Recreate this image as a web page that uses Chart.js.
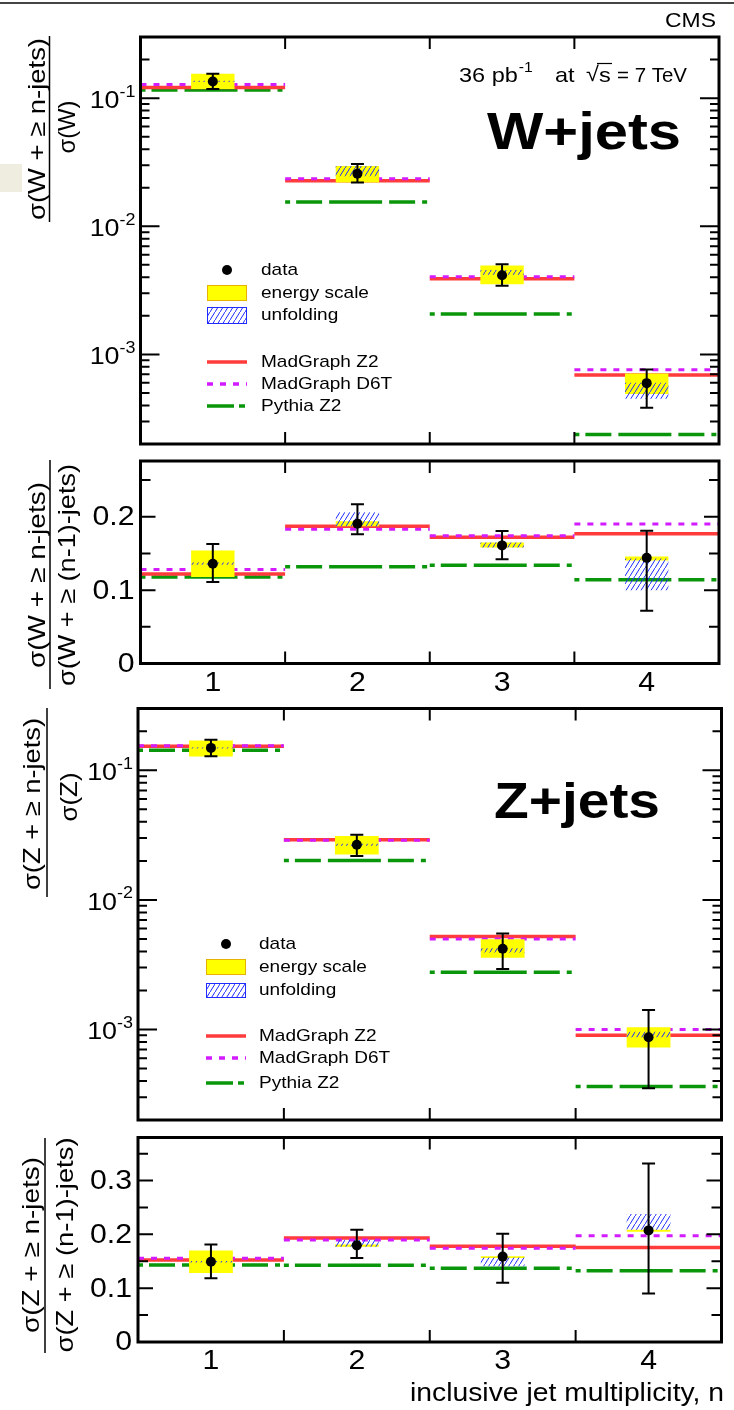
<!DOCTYPE html>
<html>
<head>
<meta charset="utf-8">
<script src="https://cdn.jsdelivr.net/npm/chart.js@4.4.1/dist/chart.umd.min.js"></script>
<style>
  html, body { margin: 0; padding: 0; background: #fff; }
  #page { position: relative; width: 734px; height: 1410px; overflow: hidden; background: #fff; }
  #page canvas { position: absolute; left: 0; top: 0; }
  #topline { position: absolute; left: 0; top: 2px; width: 734px; height: 2px; background: #444; }
  #tab { position: absolute; left: 0; top: 164px; width: 22px; height: 28px; background: #eeede0; }
</style>
</head>
<body>
<div id="page">
  <div id="topline"></div>
  <div id="tab"></div>
  <canvas id="wAbs" width="734" height="1410"></canvas>
  <canvas id="wRatio" width="734" height="1410"></canvas>
  <canvas id="zAbs" width="734" height="1410"></canvas>
  <canvas id="zRatio" width="734" height="1410"></canvas>
</div>
<script>
// jet multiplicity bins
const nJets = [1, 2, 3, 4];
const binEdges = [0.5, 1.5, 2.5, 3.5, 4.5];
const xTickLabels = ['1', '2', '3', '4'];

// tick labels
const logTickValues = [1e-1, 1e-2, 1e-3];
const logTickExps = ['-1', '-2', '-3'];
const wRatioTicks = [0, 0.1, 0.2];
const wRatioTickLabels = ['0', '0.1', '0.2'];
const zRatioTicks = [0, 0.1, 0.2, 0.3];
const zRatioTickLabels = ['0', '0.1', '0.2', '0.3'];

// W+jets : sigma(W + >= n jets) / sigma(W)
const wData = [0.135, 0.0257, 0.00415, 0.000597];
const wErrHi = [0.155, 0.0306, 0.00506, 0.000764];
const wErrLo = [0.118, 0.0220, 0.00343, 0.000384];
const wEnergyHi = [0.155, 0.0296, 0.00494, 0.000711];
const wEnergyLo = [0.118, 0.0220, 0.00353, 0.000491];
const wUnfoldHi = [0.1365, 0.0296, 0.00455, 0.00060];
const wUnfoldLo = [0.1335, 0.0246, 0.00418, 0.00045];
const wMadZ2 = [0.121, 0.0227, 0.00389, 0.00069];
const wMadD6T = [0.1276, 0.0235, 0.00403, 0.00076];
const wPythiaZ2 = [0.116, 0.0155, 0.00207, 0.000237];

// W+jets : sigma(W + >= n jets) / sigma(W + >= (n-1) jets)
const wrData = [0.136, 0.1905, 0.161, 0.144];
const wrErrHi = [0.163, 0.217, 0.1805, 0.181];
const wrErrLo = [0.111, 0.176, 0.142, 0.072];
const wrEnergyHi = [0.154, 0.194, 0.165, 0.146];
const wrEnergyLo = [0.118, 0.187, 0.158, 0.1405];
const wrUnfoldHi = [0.1375, 0.206, 0.165, 0.143];
const wrUnfoldLo = [0.1345, 0.187, 0.158, 0.100];
const wrMadZ2 = [0.122, 0.187, 0.172, 0.177];
const wrMadD6T = [0.128, 0.183, 0.174, 0.190];
const wrPythiaZ2 = [0.118, 0.132, 0.134, 0.114];

// Z+jets : sigma(Z + >= n jets) / sigma(Z)
const zData = [0.149, 0.0266, 0.00419, 0.00087];
const zErrHi = [0.1724, 0.0318, 0.0055, 0.00141];
const zErrLo = [0.1285, 0.0218, 0.00293, 0.000351];
const zEnergyHi = [0.170, 0.0311, 0.00497, 0.00104];
const zEnergyLo = [0.1278, 0.0224, 0.00358, 0.000724];
const zUnfoldHi = [0.1505, 0.0271, 0.00423, 0.00096];
const zUnfoldLo = [0.1475, 0.0262, 0.00392, 0.00087];
const zMadZ2 = [0.1537, 0.0291, 0.00521, 0.000902];
const zMadD6T = [0.155, 0.0289, 0.00499, 0.00100];
const zPythiaZ2 = [0.143, 0.0201, 0.00276, 0.000362];

// Z+jets : sigma(Z + >= n jets) / sigma(Z + >= (n-1) jets)
const zrData = [0.149, 0.1796, 0.1587, 0.2074];
const zrErrHi = [0.181, 0.2087, 0.2013, 0.3315];
const zrErrLo = [0.1185, 0.1563, 0.110, 0.090];
const zrEnergyHi = [0.170, 0.181, 0.1593, 0.2087];
const zrEnergyLo = [0.128, 0.177, 0.156, 0.205];
const zrUnfoldHi = [0.1505, 0.190, 0.157, 0.2378];
const zrUnfoldLo = [0.1475, 0.177, 0.1407, 0.2087];
const zrMadZ2 = [0.1526, 0.1933, 0.1778, 0.1754];
const zrMadD6T = [0.1556, 0.1896, 0.174, 0.1976];
const zrPythiaZ2 = [0.1433, 0.1426, 0.137, 0.1322];

const FONT = '"Liberation Sans", Arial, Helvetica, sans-serif';
const STRETCH = 1.12;
const RED = '#ff3b3b';
const MAGENTA = '#d21cff';
const GREEN = '#0a960a';
const YELLOW = '#ffff00';
// pola garis Pythia per bin: titik di ujung, strip panjang di tengah
const PYTHIA_DASH = [5, 6, 26, 7, 53, 7, 26, 7, 5, 10];

// teks di canvas, sedikit dilebarkan seperti font ROOT
function put(ctx, s, x, y, o = {}) {
  ctx.save();
  ctx.font = `${o.bold ? 'bold ' : ''}${o.size || 20}px ${FONT}`;
  ctx.fillStyle = o.color || '#000';
  ctx.textBaseline = o.base || 'middle';
  ctx.textAlign = o.align || 'left';
  ctx.translate(x, y);
  if (o.rot) ctx.rotate(o.rot);
  const w = ctx.measureText(s).width;
  const sx = o.width ? o.width / w : STRETCH;
  ctx.scale(sx, 1);
  ctx.fillText(s, 0, 0);
  ctx.restore();
  return w * sx;
}

function textWidth(ctx, s, size) {
  ctx.save();
  ctx.font = `${size}px ${FONT}`;
  const w = ctx.measureText(s).width * STRETCH;
  ctx.restore();
  return w;
}

function logLabel(ctx, exp, right, py) {
  const wE = textWidth(ctx, exp, 16);
  const w10 = textWidth(ctx, '10', 24);
  put(ctx, '10', right - wE - w10, py + 3, { size: 24 });
  put(ctx, exp, right - wE, py - 6, { size: 16 });
}

function makeHatch(ctx) {
  const tile = document.createElement('canvas');
  tile.width = 5;
  tile.height = 8;
  const g = tile.getContext('2d');
  g.strokeStyle = '#1f2bff';
  g.lineWidth = 1;
  g.beginPath();
  g.moveTo(-5, 16);
  g.lineTo(10, -8);
  g.stroke();
  return ctx.createPattern(tile, 'repeat');
}

function steps(vals) {
  const pts = [];
  vals.forEach((v, i) => {
    if (i > 0) pts.push({ x: nJets[i] - 0.5, y: null });
    pts.push({ x: nJets[i] - 0.5, y: v }, { x: nJets[i] + 0.5, y: v });
  });
  return pts;
}

const boxes = (lo, hi) => nJets.map((n, i) => ({ x: n, y: [lo[i], hi[i]] }));
const points = (vals) => nJets.map((n, i) => ({ x: n, y: vals[i] }));

function drawLegend(ctx, hatch, bx, tx, r) {
  ctx.save();
  ctx.fillStyle = '#000';
  ctx.beginPath();
  ctx.arc(bx + 20, r.data, 5, 0, Math.PI * 2);
  ctx.fill();
  ctx.fillStyle = YELLOW;
  ctx.fillRect(bx, r.energy[0], 40, r.energy[1] - r.energy[0]);
  ctx.strokeStyle = '#e6b400';
  ctx.lineWidth = 1;
  ctx.strokeRect(bx + 0.5, r.energy[0] + 0.5, 39, r.energy[1] - r.energy[0] - 1);
  ctx.fillStyle = hatch;
  ctx.fillRect(bx, r.unf[0], 40, r.unf[1] - r.unf[0]);
  ctx.strokeStyle = '#1f2bff';
  ctx.strokeRect(bx + 0.5, r.unf[0] + 0.5, 39, r.unf[1] - r.unf[0] - 1);
  const line = (y, color, dash) => {
    ctx.beginPath();
    ctx.strokeStyle = color;
    ctx.lineWidth = 3.5;
    ctx.setLineDash(dash);
    ctx.moveTo(bx, y);
    ctx.lineTo(bx + 40, y);
    ctx.stroke();
  };
  line(r.red, RED, []);
  line(r.mag, MAGENTA, [6, 7]);
  line(r.green, GREEN, [27, 5, 6, 20]);
  ctx.restore();
  const o = { size: 17 };
  put(ctx, 'data', tx, r.data, o);
  put(ctx, 'energy scale', tx, (r.energy[0] + r.energy[1]) / 2, o);
  put(ctx, 'unfolding', tx, (r.unf[0] + r.unf[1]) / 2, o);
  put(ctx, 'MadGraph Z2', tx, r.red, o);
  put(ctx, 'MadGraph D6T', tx, r.mag, o);
  put(ctx, 'Pythia Z2', tx, r.green, o);
}

function yTitle(ctx, num, den, t) {
  const rot = -Math.PI / 2;
  put(ctx, num, t.nx, t.cy, { size: 24, rot, align: 'center', width: t.nw });
  put(ctx, den, t.dx, t.dcy || t.cy, { size: 24, rot, align: 'center', width: t.dw });
  ctx.save();
  ctx.strokeStyle = '#000';
  ctx.lineWidth = 1.5;
  ctx.beginPath();
  ctx.moveTo(t.bx, t.b0);
  ctx.lineTo(t.bx, t.b1);
  ctx.stroke();
  ctx.restore();
}

function makePanel(id, cfg) {
  const el = document.getElementById(id);
  const ctx = el.getContext('2d');
  const hatch = makeHatch(ctx);
  const f = cfg.frame;

  const errorBars = {
    id: 'errorBars',
    afterDatasetsDraw(chart) {
      const { ctx, scales: { x, y } } = chart;
      ctx.save();
      ctx.strokeStyle = '#000';
      ctx.lineWidth = 2;
      nJets.forEach((n, i) => {
        const px = x.getPixelForValue(n);
        const top = y.getPixelForValue(cfg.errHi[i]);
        const bot = y.getPixelForValue(cfg.errLo[i]);
        ctx.beginPath();
        ctx.moveTo(px, top); ctx.lineTo(px, bot);
        ctx.moveTo(px - 6.5, top); ctx.lineTo(px + 6.5, top);
        ctx.moveTo(px - 6.5, bot); ctx.lineTo(px + 6.5, bot);
        ctx.stroke();
      });
      ctx.restore();
    }
  };

  const frame = {
    id: 'frame',
    afterDraw(chart) {
      const { ctx, chartArea: a, scales: { x, y } } = chart;
      ctx.save();
      ctx.strokeStyle = '#000';
      ctx.lineWidth = 2;
      // tanda batas bin di atas dan bawah
      x.ticks.forEach(t => {
        if (t.value <= 0.5 || t.value >= 4.5) return;
        const px = x.getPixelForValue(t.value);
        ctx.beginPath();
        ctx.moveTo(px, a.bottom); ctx.lineTo(px, a.bottom - 12);
        ctx.moveTo(px, a.top); ctx.lineTo(px, a.top + 12);
        ctx.stroke();
      });
      // tanda sumbu y di kiri dan kanan
      const yt = [];
      if (cfg.log) {
        for (let e = -4; e <= 0; e++) {
          for (let m = 1; m <= 9; m++) {
            const v = m * Math.pow(10, e);
            if (v >= cfg.yMin && v <= cfg.yMax) yt.push({ v, len: m === 1 ? 19 : 9 });
          }
        }
      } else {
        for (let k = 0; k * 0.05 <= cfg.yMax + 1e-9; k++) {
          yt.push({ v: k * 0.05, len: k % 2 === 0 ? 15 : 10 });
        }
      }
      yt.forEach(t => {
        const py = y.getPixelForValue(t.v);
        ctx.beginPath();
        ctx.moveTo(a.left, py); ctx.lineTo(a.left + t.len, py);
        ctx.moveTo(a.right, py); ctx.lineTo(a.right - t.len, py);
        ctx.stroke();
      });
      ctx.lineWidth = 3;
      ctx.strokeRect(a.left, a.top, a.right - a.left, a.bottom - a.top);
      ctx.restore();
      cfg.draw(ctx, chart, a, x, y, hatch);
    }
  };

  return new Chart(el, {
    type: 'line',
    data: {
      datasets: [
        { type: 'scatter', data: points(cfg.data), pointRadius: 5, pointBackgroundColor: '#000',
          pointBorderWidth: 0, order: 0 },
        { type: 'bar', data: boxes(cfg.unfLo, cfg.unfHi), backgroundColor: hatch, borderWidth: 0,
          grouped: false, categoryPercentage: 0.3, barPercentage: 1, order: 1 },
        { type: 'bar', data: boxes(cfg.enLo, cfg.enHi), backgroundColor: YELLOW, borderWidth: 0,
          grouped: false, categoryPercentage: 0.3, barPercentage: 1, order: 2 },
        { type: 'line', data: steps(cfg.d6t), borderColor: MAGENTA, borderWidth: 3,
          borderDash: [6, 7], pointRadius: 0, order: 3 },
        { type: 'line', data: steps(cfg.z2), borderColor: RED, borderWidth: 3.5,
          pointRadius: 0, order: 4 },
        { type: 'line', data: steps(cfg.py), borderColor: GREEN, borderWidth: 3.5,
          borderDash: PYTHIA_DASH, pointRadius: 0, order: 5 }
      ]
    },
    options: {
      responsive: false,
      animation: false,
      devicePixelRatio: 1,
      events: [],
      layout: { padding: { left: f.l, right: 734 - f.r, top: f.t, bottom: 1410 - f.b } },
      plugins: { legend: { display: false }, tooltip: { enabled: false } },
      scales: {
        x: {
          type: 'linear', display: false, min: 0.5, max: 4.5, offset: false,
          grid: { offset: false },
          afterBuildTicks: s => { s.ticks = binEdges.map(v => ({ value: v })); }
        },
        y: { type: cfg.log ? 'logarithmic' : 'linear', display: false, min: cfg.yMin, max: cfg.yMax,
          beginAtZero: false }
      }
    },
    plugins: [errorBars, frame]
  });
}

// W+jets, skala log
makePanel('wAbs', {
  frame: { l: 140.5, r: 719, t: 37, b: 444 },
  log: true, yMin: 2e-4, yMax: 0.3,
  data: wData, errHi: wErrHi, errLo: wErrLo, enHi: wEnergyHi, enLo: wEnergyLo,
  unfHi: wUnfoldHi, unfLo: wUnfoldLo, z2: wMadZ2, d6t: wMadD6T, py: wPythiaZ2,
  draw(ctx, chart, a, x, y, hatch) {
    logTickValues.forEach((v, i) => logLabel(ctx, logTickExps[i], a.left - 5, y.getPixelForValue(v)));
    put(ctx, 'CMS', 716, 21, { size: 20, align: 'right', width: 51 });
    const w = put(ctx, '36 pb', 459, 76, { size: 21 });
    put(ctx, '-1', 459 + w + 1, 68, { size: 14 });
    put(ctx, 'at', 555, 76, { size: 21 });
    put(ctx, '\u221A', 586, 75, { size: 21 });
    put(ctx, 's', 599, 76, { size: 21 });
    ctx.save();
    ctx.strokeStyle = '#000'; ctx.lineWidth = 1.2;
    ctx.beginPath(); ctx.moveTo(597, 63.5); ctx.lineTo(612, 63.5); ctx.stroke();
    ctx.restore();
    put(ctx, '= 7 TeV', 617, 76, { size: 21, width: 70 });
    put(ctx, 'W+jets', 487, 135, { size: 52, bold: true, width: 194 });
    drawLegend(ctx, hatch, 207, 261, {
      data: 270, energy: [285, 301], unf: [307, 324], red: 362, mag: 384, green: 406
    });
    yTitle(ctx, '\u03C3(W + \u2265 n-jets)', '\u03C3(W)',
      { nx: 38, cy: 129, nw: 182, dx: 68, dcy: 127, dw: 53, bx: 49.5, b0: 36, b1: 222 });
  }
});

// W+jets, rasio
makePanel('wRatio', {
  frame: { l: 140.5, r: 719, t: 461, b: 663.5 },
  log: false, yMin: 0, yMax: 0.276,
  data: wrData, errHi: wrErrHi, errLo: wrErrLo, enHi: wrEnergyHi, enLo: wrEnergyLo,
  unfHi: wrUnfoldHi, unfLo: wrUnfoldLo, z2: wrMadZ2, d6t: wrMadD6T, py: wrPythiaZ2,
  draw(ctx, chart, a, x, y) {
    wRatioTicks.forEach((v, i) =>
      put(ctx, wRatioTickLabels[i], a.left - 6, y.getPixelForValue(v) + 1, { size: 27, align: 'right' }));
    nJets.forEach((n, i) =>
      put(ctx, xTickLabels[i], x.getPixelForValue(n), a.bottom + 20, { size: 27, align: 'center' }));
    yTitle(ctx, '\u03C3(W + \u2265 n-jets)', '\u03C3(W + \u2265 (n-1)-jets)',
      { nx: 38, cy: 575, nw: 186, dx: 68, dw: 222, bx: 50, b0: 460, b1: 689 });
  }
});

// Z+jets, skala log
makePanel('zAbs', {
  frame: { l: 138, r: 721.5, t: 708.5, b: 1120 },
  log: true, yMin: 2e-4, yMax: 0.3,
  data: zData, errHi: zErrHi, errLo: zErrLo, enHi: zEnergyHi, enLo: zEnergyLo,
  unfHi: zUnfoldHi, unfLo: zUnfoldLo, z2: zMadZ2, d6t: zMadD6T, py: zPythiaZ2,
  draw(ctx, chart, a, x, y, hatch) {
    logTickValues.forEach((v, i) => logLabel(ctx, logTickExps[i], a.left - 5, y.getPixelForValue(v)));
    put(ctx, 'Z+jets', 494, 804, { size: 50, bold: true, width: 166 });
    drawLegend(ctx, hatch, 206, 259, {
      data: 944, energy: [959, 975], unf: [983, 998], red: 1036, mag: 1058, green: 1083
    });
    yTitle(ctx, '\u03C3(Z + \u2265 n-jets)', '\u03C3(Z)',
      { nx: 33, cy: 804, nw: 172, dx: 70, dcy: 797, dw: 49, bx: 47, b0: 708, b1: 897 });
  }
});

// Z+jets, rasio
makePanel('zRatio', {
  frame: { l: 138, r: 721.5, t: 1137.5, b: 1342 },
  log: false, yMin: 0, yMax: 0.38,
  data: zrData, errHi: zrErrHi, errLo: zrErrLo, enHi: zrEnergyHi, enLo: zrEnergyLo,
  unfHi: zrUnfoldHi, unfLo: zrUnfoldLo, z2: zrMadZ2, d6t: zrMadD6T, py: zrPythiaZ2,
  draw(ctx, chart, a, x, y) {
    zRatioTicks.forEach((v, i) =>
      put(ctx, zRatioTickLabels[i], a.left - 6, y.getPixelForValue(v) + 1, { size: 27, align: 'right' }));
    nJets.forEach((n, i) =>
      put(ctx, xTickLabels[i], x.getPixelForValue(n), a.bottom + 20, { size: 27, align: 'center' }));
    put(ctx, 'inclusive jet multiplicity, n', 724, 1394, { size: 26, align: 'right', width: 314 });
    yTitle(ctx, '\u03C3(Z + \u2265 n-jets)', '\u03C3(Z + \u2265 (n-1)-jets)',
      { nx: 32, cy: 1245, nw: 176, dx: 66, dw: 215, bx: 45, b0: 1138, b1: 1353 });
  }
});
</script>
</body>
</html>
